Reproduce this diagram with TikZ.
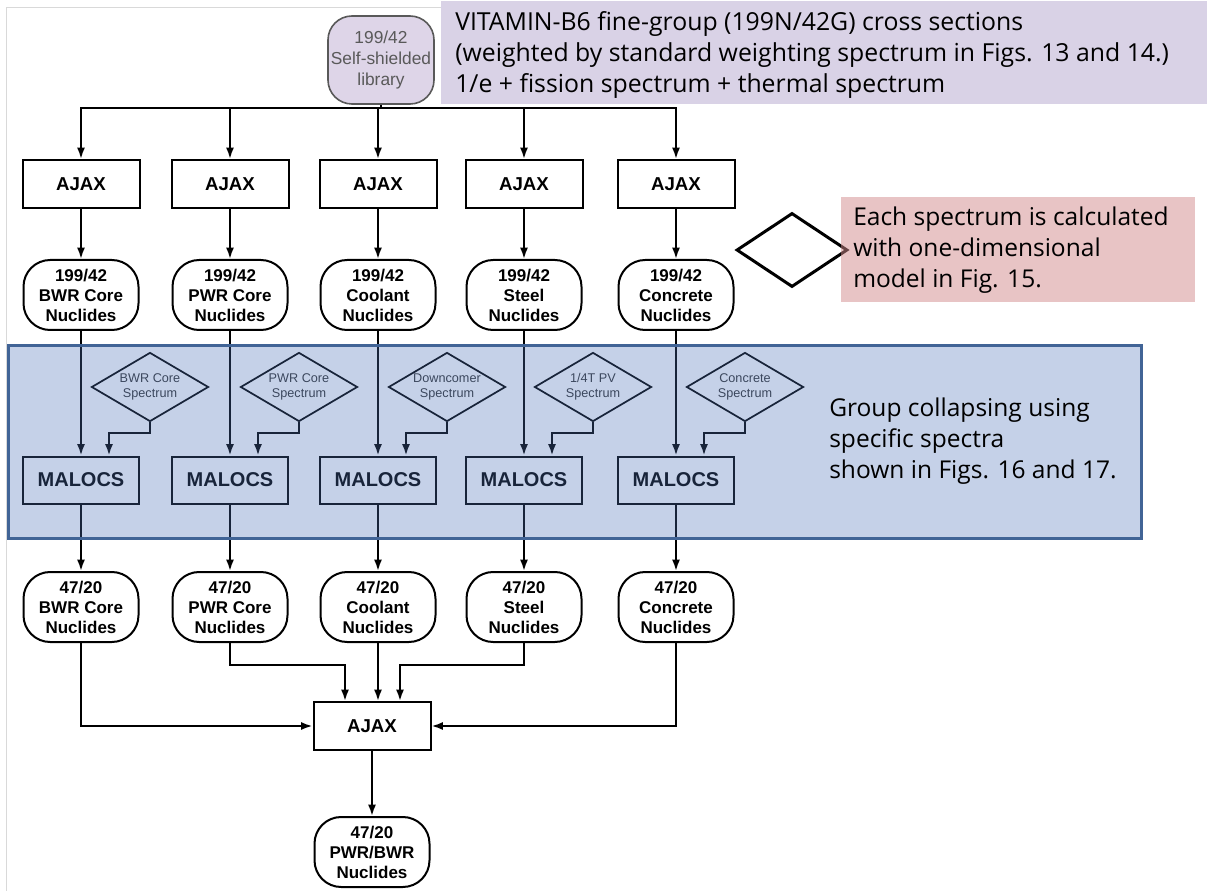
\documentclass[tikz,border=0pt]{standalone}
\usepackage{fontspec}
\setmainfont{Liberation Sans}
\newfontfamily\kfont{Open Sans}
\usetikzlibrary{shapes.geometric,arrows.meta}
\definecolor{purplebg}{RGB}{217,210,230}
\definecolor{libfill}{RGB}{222,213,232}
\definecolor{pinkc}{RGB}{209,137,139}
\definecolor{bluec}{RGB}{76,113,183}
\definecolor{blueedge}{RGB}{65,100,150}
\tikzset{
  ln/.style={line width=1.5pt},
  arr/.style={line width=1.5pt,-{Latex[length=8.5pt,width=6pt]}},
  ajaxbox/.style={draw,line width=1.5pt,minimum width=87.75pt,minimum height=36pt,inner sep=0pt,font=\bfseries\fontsize{14}{16}\selectfont},
  malbox/.style={draw,line width=1.5pt,minimum width=87pt,minimum height=35.25pt,inner sep=0pt,font=\bfseries\fontsize{15}{18}\selectfont},
  nuc/.style={draw,line width=1.5pt,rounded corners=20pt,minimum width=86.25pt,minimum height=52.5pt,inner sep=0pt,align=center,font=\bfseries\fontsize{12.75}{15}\selectfont},
  spec/.style={diamond,aspect=1.7,draw,line width=1.3pt,minimum width=87.75pt,minimum height=51.75pt,inner sep=-8pt,align=center,text=black!80,font=\fontsize{9.5}{11}\selectfont},
  libnode/.style={draw=black!65,fill=libfill,line width=1.2pt,rounded corners=18pt,minimum width=79.5pt,minimum height=66pt,inner sep=0pt,align=center,text=black!65,font=\fontsize{13}{15.5}\selectfont},
  note/.style={align=left,inner sep=0pt,font=\kfont\fontsize{18.4}{23.25}\selectfont}
}
\begin{document}
\begin{tikzpicture}[x=0.75pt,y=-0.75pt]
\useasboundingbox (0,0) rectangle (1211,891);
% scan border
\draw[black!15,line width=0.75pt] (6,891) -- (6,8) -- (441,8);
% purple note
\node[anchor=north west,fill=purplebg,minimum width=574.5pt,minimum height=77.25pt,inner sep=0pt] (pbox) at (441,1) {};
\node[anchor=west,align=left,inner sep=0pt,font=\kfont\fontsize{18.6}{23.25}\selectfont] (ptext) at (455,55) {VITAMIN-B6 fine-group (199N/42G) cross sections\\(weighted by standard weighting spectrum in Figs. 13 and 14.)\\1/e + fission spectrum + thermal spectrum};
% library
\node[libnode] (lib) at (381,60) {199/42\\Self-shielded\\library};
\coordinate (bus) at (381,108);
% columns
\foreach \i/\x in {1/81,2/230,3/378,4/524,5/676}{
  \node[ajaxbox] (a\i) at (\x,184) {AJAX};
  \node[malbox] (m\i) at (\x,480) {MALOCS};
}
\node[nuc] (n1) at (81,295) {199/42\\BWR Core\\Nuclides};
\node[nuc] (n2) at (230,295) {199/42\\PWR Core\\Nuclides};
\node[nuc] (n3) at (378,295) {199/42\\Coolant\\Nuclides};
\node[nuc] (n4) at (524,295) {199/42\\Steel\\Nuclides};
\node[nuc] (n5) at (676,295) {199/42\\Concrete\\Nuclides};
\node[spec] (d1) at (150,387) {BWR Core\\Spectrum};
\node[spec] (d2) at (299,387) {PWR Core\\Spectrum};
\node[spec] (d3) at (447,387) {Downcomer\\Spectrum};
\node[spec] (d4) at (593,387) {1/4T PV\\Spectrum};
\node[spec] (d5) at (745,387) {Concrete\\Spectrum};
\node[nuc] (b1) at (81,607) {47/20\\BWR Core\\Nuclides};
\node[nuc] (b2) at (230,607) {47/20\\PWR Core\\Nuclides};
\node[nuc] (b3) at (378,607) {47/20\\Coolant\\Nuclides};
\node[nuc] (b4) at (524,607) {47/20\\Steel\\Nuclides};
\node[nuc] (b5) at (676,607) {47/20\\Concrete\\Nuclides};
\node[ajaxbox] (ajb) at (372,726) {AJAX};
\node[nuc] (fin) at (372,852) {47/20\\PWR/BWR\\Nuclides};
% connectors
\draw[ln] (lib.south) -- (bus);
\foreach \i in {1,...,5}{
  \draw[arr] (bus) -| (a\i.north);
  \draw[arr] (a\i) -- (n\i);
  \draw[arr] (n\i) -- (m\i);
  \draw[arr] (d\i.south) -- ++(0,11) -| ([xshift=21pt]m\i.north);
  \draw[arr] (m\i) -- (b\i);
}
\draw[arr] (b1.south) |- (ajb.west);
\draw[arr] (b2.south) -- ++(0,22) -| ([xshift=-20.25pt]ajb.north);
\draw[arr] (b3.south) -- (b3.south |- ajb.north);
\draw[arr] (b4.south) -- ++(0,22) -| ([xshift=21pt]ajb.north);
\draw[arr] (b5.south) |- (ajb.east);
\draw[arr] (ajb) -- (fin);
% blue overlay
\node[anchor=north west,draw=blueedge,line width=2.25pt,fill=bluec,fill opacity=0.32,minimum width=849.75pt,minimum height=144.75pt,inner sep=0pt] (bbox) at (7,344) {};
\node[note,anchor=west] (btext) at (829,441) {Group collapsing using\\specific spectra\\shown in Figs. 16 and 17.};
% pink note
\node[diamond,draw,line width=2.25pt,fill=white,minimum width=83.25pt,minimum height=55.5pt,inner sep=0pt] (bigd) at (792,250) {};
\node[anchor=north west,fill=pinkc,fill opacity=0.5,text opacity=1,minimum width=265.5pt,minimum height=78.75pt,inner sep=0pt] (pinkbox) at (841,197) {};
\node[note,anchor=west] (pinktext) at (853,250) {Each spectrum is calculated\\with one-dimensional\\model in Fig. 15.};
\end{tikzpicture}
\end{document}
